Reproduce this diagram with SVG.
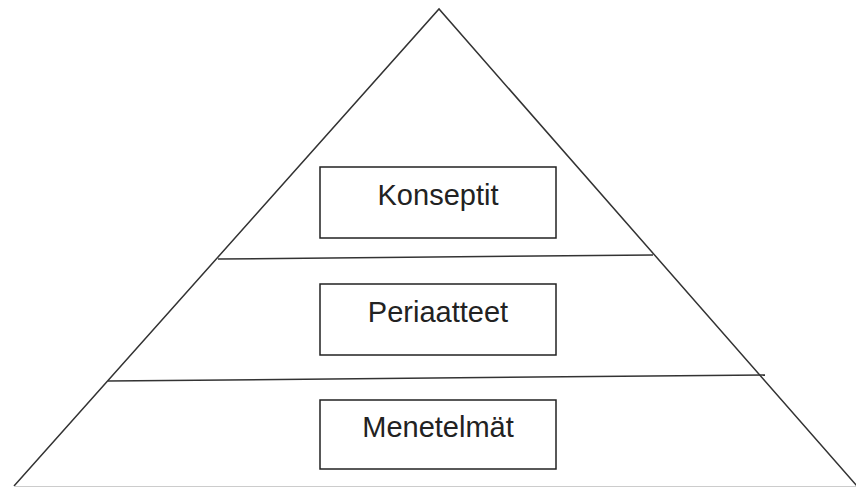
<svg xmlns="http://www.w3.org/2000/svg" width="856" height="487" viewBox="0 0 856 487">
  <style>
    .edge { fill: none; stroke: #333; stroke-width: 1.5; }
    .box { fill: #fff; stroke: #222; stroke-width: 1.5; }
    .label { font-family: "Liberation Sans", Arial, sans-serif; font-size: 29px; fill: #222; text-anchor: middle; }
  </style>
  <rect width="856" height="487" fill="#fff"/>
  <!-- pyramid outline and level dividers -->
  <g id="connectors">
    <path class="edge" d="M14,486 L439,9 L857,486"/>
    <line x1="14" y1="486.5" x2="856" y2="486.5" stroke="#ccc" stroke-width="1"/>
    <line class="edge" x1="218" y1="259" x2="653" y2="255"/>
    <line class="edge" x1="108" y1="381" x2="765" y2="375"/>
  </g>
  <g id="konseptit">
    <rect class="box" x="320" y="167" width="236" height="71"/>
    <text class="label" x="438" y="205">Konseptit</text>
  </g>
  <g id="periaatteet">
    <rect class="box" x="320" y="284" width="236" height="71"/>
    <text class="label" x="438" y="322">Periaatteet</text>
  </g>
  <g id="menetelmat">
    <rect class="box" x="320" y="400" width="236" height="69"/>
    <text class="label" x="438" y="437">Menetelmät</text>
  </g>
</svg>
